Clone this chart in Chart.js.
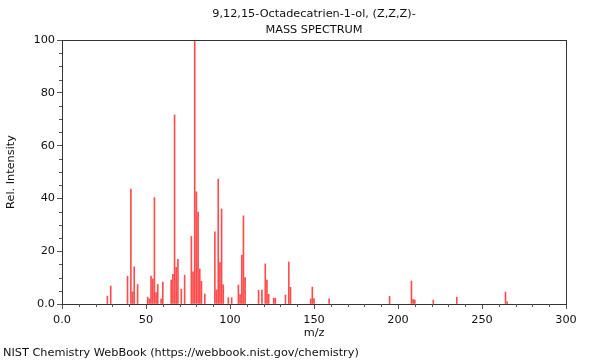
<!DOCTYPE html>
<html>
<head>
<meta charset="utf-8">
<script src="https://cdn.jsdelivr.net/npm/chart.js@4/dist/chart.umd.min.js"></script>
<style>
  html, body { margin: 0; padding: 0; background: #fff; }
  #wrap { width: 600px; height: 360px; }
</style>
</head>
<body>
<div id="wrap"><canvas id="c" width="600" height="360"></canvas></div>
<script>
const titleLines = ['9,12,15-Octadecatrien-1-ol, (Z,Z,Z)-', 'MASS SPECTRUM'];
const footerText = 'NIST Chemistry WebBook (https://webbook.nist.gov/chemistry)';
const xTitle = 'm/z';
const yTitle = 'Rel. Intensity';

const mz = [27, 29, 39, 41, 42, 43, 45, 51, 52, 53, 54, 55, 56, 57, 59, 60,
  65, 66, 67, 68, 69, 71, 73, 77, 78, 79, 80, 81, 82, 83, 85,
  91, 92, 93, 94, 95, 96, 99, 101, 105, 106, 107, 108, 109,
  117, 119, 121, 122, 123, 126, 127, 133, 135, 136,
  148, 149, 150, 159, 195, 208, 209, 210, 221, 235, 264, 265];
const intensity = [3.0, 6.8, 10.5, 43.5, 4.6, 14.1, 7.4, 2.6, 2.0, 10.6, 9.5, 40.3, 4.3, 7.4, 2.0, 8.3,
  9.1, 11.2, 71.6, 13.9, 16.9, 5.6, 10.9, 25.6, 12.2, 100, 42.5, 34.8, 13.3, 8.6, 3.8,
  27.3, 5.3, 47.3, 15.7, 36.0, 7.3, 2.4, 2.4, 7.2, 3.6, 18.5, 33.4, 10.0,
  5.2, 5.3, 15.2, 9.1, 3.7, 2.2, 2.2, 3.4, 15.9, 6.3,
  1.9, 6.4, 2.1, 2.0, 2.9, 8.7, 1.8, 1.5, 1.5, 2.6, 4.5, 0.8];

const xMin = 0, xMax = 300, xMajor = 50, xMinor = 10;
const yMin = 0, yMax = 100, yMajor = 20, yMinor = 5;

const FONT = 'DejaVu Sans';
const FS = 11.3;
const fmt = v => (v === 0 ? '0.0' : String(v));

const minorTicks = {
  id: 'minorTicks',
  afterDraw(chart) {
    const {ctx, chartArea: a, scales: {x, y}} = chart;
    ctx.save();
    ctx.strokeStyle = '#555';
    ctx.lineWidth = 1;
    ctx.beginPath();
    for (let v = xMin; v <= xMax; v += xMinor) {
      if (v % xMajor === 0) continue;
      const px = Math.round(x.getPixelForValue(v)) + 0.5;
      ctx.moveTo(px, a.bottom);
      ctx.lineTo(px, a.bottom + 3);
    }
    for (let v = yMin; v <= yMax; v += yMinor) {
      if (v % yMajor === 0) continue;
      const py = Math.round(y.getPixelForValue(v)) + 0.5;
      ctx.moveTo(a.left, py);
      ctx.lineTo(a.left - 3, py);
    }
    ctx.stroke();
    ctx.strokeStyle = '#333';
    ctx.beginPath();
    ctx.moveTo(a.left, Math.round(a.top) + 0.5);
    ctx.lineTo(a.right, Math.round(a.top) + 0.5);
    ctx.moveTo(Math.round(a.right) + 0.5, a.top);
    ctx.lineTo(Math.round(a.right) + 0.5, a.bottom);
    ctx.stroke();
    ctx.restore();
  }
};

new Chart(document.getElementById('c'), {
  type: 'bar',
  data: {
    datasets: [{
      data: mz.map((m, i) => ({x: m, y: intensity[i]})),
      backgroundColor: 'rgba(255,0,0,0.7)',
      borderWidth: 0,
      barThickness: 1
    }]
  },
  options: {
    responsive: false,
    animation: false,
    devicePixelRatio: 1,
    layout: {padding: {left: 3, right: 34, top: 0, bottom: 0}},
    plugins: {
      legend: {display: false},
      tooltip: {enabled: false},
      title: {
        display: true,
        text: titleLines,
        fullSize: false,
        color: '#111',
        font: {family: FONT, size: FS, weight: 'normal', lineHeight: '16px'},
        padding: {top: 6, bottom: 2}
      },
      subtitle: {
        display: true,
        text: footerText,
        position: 'bottom',
        align: 'start',
        fullSize: true,
        color: '#111',
        font: {family: FONT, size: FS, weight: 'normal', lineHeight: '14px'},
        padding: {top: 2, bottom: 0}
      }
    },
    scales: {
      x: {
        type: 'linear',
        min: xMin, max: xMax,
        offset: false,
        afterFit(s) { s.height = 40; },
        ticks: {stepSize: xMajor, callback: fmt, color: '#111', padding: 4, maxRotation: 0,
          font: {family: FONT, size: FS}},
        grid: {display: true, drawOnChartArea: false, offset: false, tickLength: 5, color: '#555'},
        border: {display: true, color: '#333'},
        title: {display: true, text: xTitle, color: '#111', padding: {top: 0, bottom: 4},
          font: {family: FONT, size: FS}}
      },
      y: {
        min: yMin, max: yMax,
        afterFit(s) { s.width = 59; },
        ticks: {stepSize: yMajor, callback: fmt, color: '#111', padding: 2,
          font: {family: FONT, size: FS}},
        grid: {display: true, drawOnChartArea: false, tickLength: 5, color: '#555'},
        border: {display: true, color: '#333'},
        title: {display: true, text: yTitle, color: '#111', padding: {top: 1, bottom: 0},
          font: {family: FONT, size: FS}}
      }
    }
  },
  plugins: [minorTicks]
});
</script>
</body>
</html>
